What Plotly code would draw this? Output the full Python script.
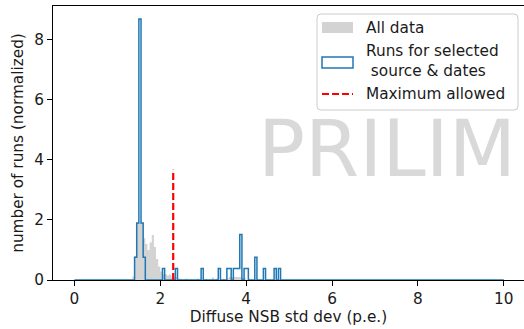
import numpy as np
import plotly.graph_objects as go

# Histogram binning (0 to 10 p.e., 0.05 wide bins)
BIN_WIDTH = 0.05
X_MIN, X_MAX = 0.0, 10.0

# "All data": left bin edges and normalized heights (non-empty bins only)
all_edges = [1.35, 1.40, 1.45, 1.50, 1.55, 1.60, 1.65, 1.70, 1.75, 1.80,
             1.85, 1.90, 1.95, 2.00, 2.05, 2.10, 2.15, 2.20, 2.25, 2.30,
             2.35, 2.40, 2.45, 2.55, 2.60, 2.70, 2.85, 2.95, 3.05, 3.20,
             3.30, 3.45, 3.55, 3.60, 3.65, 3.70, 3.75, 3.80, 3.85, 3.90,
             3.95, 4.05, 4.20, 4.45, 4.75]
all_density = [0.12, 0.80, 1.90, 1.90, 1.90, 1.40, 1.20, 1.00, 1.25, 1.50,
               1.10, 0.70, 0.45, 0.28, 0.18, 0.20, 0.15, 0.18, 0.12, 0.08,
               0.10, 0.05, 0.04, 0.03, 0.05, 0.03, 0.05, 0.06, 0.03, 0.08,
               0.05, 0.04, 0.06, 0.10, 0.12, 0.10, 0.10, 0.12, 0.10, 0.08,
               0.06, 0.04, 0.03, 0.03, 0.03]

# "Runs for selected source & dates": left bin edges and normalized heights
sel_edges = [1.40, 1.45, 1.50, 1.55, 1.60, 2.05, 2.35, 2.95, 3.35, 3.55,
             3.60, 3.70, 3.75, 3.80, 3.85, 3.95, 4.00, 4.20, 4.40, 4.65,
             4.75]
sel_density = [0.76, 1.90, 8.70, 1.90, 0.76, 0.38, 0.38, 0.38, 0.38, 0.38,
               0.38, 0.38, 0.38, 0.38, 1.52, 0.38, 0.38, 0.76, 0.38, 0.38,
               0.38]

# Cut value on the NSB std dev and the drawn height of its marker
max_allowed = 2.3
max_marker_top = 3.67

x_ticks = [0, 2, 4, 6, 8, 10]
y_ticks = [0, 2, 4, 6, 8]

legend_labels = ["All data", "Runs for selected<br>\u00a0source & dates",
                 "Maximum allowed"]

FONT = "DejaVu Sans"
FS = 15.3
TEXT = "#1a1a1a"
GRAY = "#d3d3d3"
BLUE = "#1f77b4"
RED = "#ff0000"

# Figure geometry (pixels)
W, H = 524, 329
ML, MR, MT, MB = 53, 0, 6, 49
PW, PH = W - ML - MR, H - MT - MB


def px(x):
    """Horizontal pixel -> paper fraction."""
    return (x - ML) / PW


def py(y):
    """Vertical pixel (from top) -> paper fraction."""
    return (H - MB - y) / PH


def step_outline(edges, heights):
    """Closed step outline of a histogram over the full 0-10 range."""
    n_bins = int(round((X_MAX - X_MIN) / BIN_WIDTH))
    grid = X_MIN + BIN_WIDTH * np.arange(n_bins + 1)
    counts = np.zeros(n_bins)
    idx = np.rint((np.asarray(edges) - X_MIN) / BIN_WIDTH).astype(int)
    counts[idx] = heights
    xs = np.repeat(grid, 2)
    ys = np.concatenate([[0.0], np.repeat(counts, 2), [0.0]])
    return xs, ys


ax_x, ax_y = step_outline(all_edges, all_density)
sel_x, sel_y = step_outline(sel_edges, sel_density)

fig = go.Figure()

fig.add_trace(go.Scatter(
    x=ax_x, y=ax_y, mode="lines", fill="toself", fillcolor=GRAY,
    line=dict(width=0, color=GRAY), hoverinfo="skip", showlegend=False,
))

fig.add_trace(go.Scatter(
    x=sel_x, y=sel_y, mode="lines",
    line=dict(width=1.5, color=BLUE), hoverinfo="skip", showlegend=False,
))

fig.add_trace(go.Scatter(
    x=[max_allowed, max_allowed], y=[0, max_marker_top], mode="lines",
    line=dict(width=2.2, color=RED, dash="7px,3px"),
    hoverinfo="skip", showlegend=False,
))

# Watermark
fig.add_annotation(
    text="PRILIM", xref="paper", yref="paper", x=px(256), y=py(149),
    xanchor="left", yanchor="middle", showarrow=False,
    font=dict(family=FONT, size=78, color="#d9d9d9"),
)

# Legend frame with rounded corners
x0, x1, y0, y1, r = 317, 518, 14, 110, 4
frame = (
    f"M {px(x0 + r)},{py(y0)} L {px(x1 - r)},{py(y0)} "
    f"Q {px(x1)},{py(y0)} {px(x1)},{py(y0 + r)} "
    f"L {px(x1)},{py(y1 - r)} Q {px(x1)},{py(y1)} {px(x1 - r)},{py(y1)} "
    f"L {px(x0 + r)},{py(y1)} Q {px(x0)},{py(y1)} {px(x0)},{py(y1 - r)} "
    f"L {px(x0)},{py(y0 + r)} Q {px(x0)},{py(y0)} {px(x0 + r)},{py(y0)} Z"
)
fig.add_shape(type="path", path=frame, xref="paper", yref="paper",
              fillcolor="rgba(255,255,255,0.8)",
              line=dict(color="#cccccc", width=1))

# Legend handles
fig.add_shape(type="rect", xref="paper", yref="paper",
              x0=px(322), x1=px(353), y0=py(33), y1=py(22),
              fillcolor=GRAY, line=dict(width=0))
fig.add_shape(type="rect", xref="paper", yref="paper",
              x0=px(322), x1=px(353), y0=py(68), y1=py(57),
              fillcolor="rgba(0,0,0,0)", line=dict(color=BLUE, width=1.5))
fig.add_shape(type="line", xref="paper", yref="paper",
              x0=px(322), x1=px(353), y0=py(94), y1=py(94),
              line=dict(color=RED, width=2.2, dash="7px,3px"))

# Legend labels
for label, yc in zip(legend_labels, [28, 61, 94]):
    fig.add_annotation(
        text=label, xref="paper", yref="paper", x=px(364), y=py(yc),
        xanchor="left", yanchor="middle", align="left", showarrow=False,
        font=dict(family=FONT, size=FS, color=TEXT),
    )

fig.update_layout(
    width=W, height=H,
    margin=dict(l=ML, r=MR, t=MT, b=MB),
    paper_bgcolor="white", plot_bgcolor="white",
    font=dict(family=FONT, size=FS, color=TEXT),
    showlegend=False,
)

fig.update_xaxes(
    range=[-0.5, 10.47], tickvals=x_ticks, ticktext=[str(v) for v in x_ticks],
    showgrid=False, zeroline=False,
    showline=True, linecolor="black", linewidth=1, mirror=True,
    ticks="outside", ticklen=5, tickwidth=1, tickcolor="black",
    layer="above traces",
    tickfont=dict(family=FONT, size=FS, color=TEXT),
    title=dict(text="Diffuse NSB std dev (p.e.)", standoff=2,
               font=dict(family=FONT, size=FS, color=TEXT)),
)

fig.update_yaxes(
    range=[0, 9.13], tickvals=y_ticks, ticktext=[str(v) for v in y_ticks],
    showgrid=False, zeroline=False,
    showline=True, linecolor="black", linewidth=1,
    ticks="outside", ticklen=5, tickwidth=1, tickcolor="black",
    layer="above traces",
    tickfont=dict(family=FONT, size=FS, color=TEXT),
    title=dict(text="number of runs (normalized)", standoff=6,
               font=dict(family=FONT, size=FS, color=TEXT)),
)

fig.write_html("out.html")
